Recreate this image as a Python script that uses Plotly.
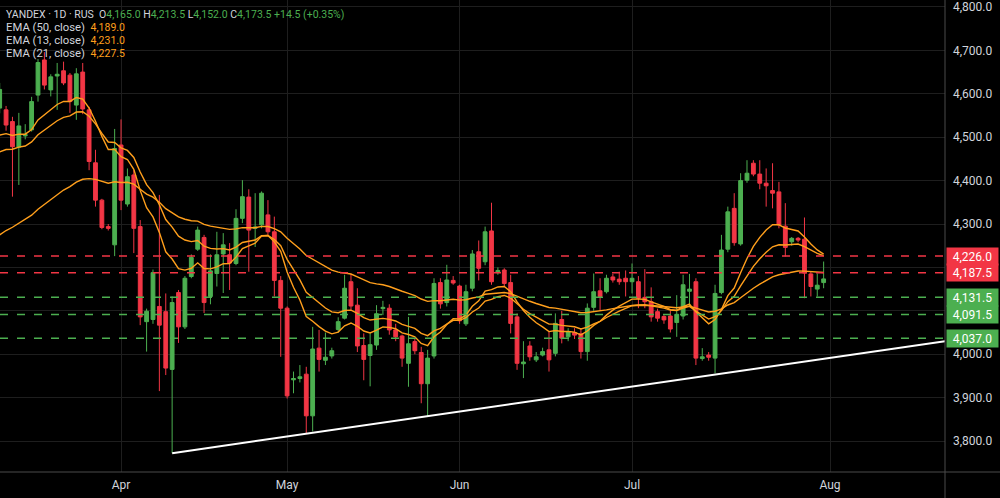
import plotly.graph_objects as go

# ---------------- data ----------------
opens = [4567, 4563, 4536, 4477, 4503, 4517, 4597, 4678, 4609, 4641,
         4653, 4643, 4574, 4650, 4563, 4441, 4355, 4294, 4252, 4482,
         4346, 4413, 4294, 4075, 4080, 4110, 4098, 3965, 4142, 4063,
         4179, 4242, 4269, 4133, 4186, 4231, 4229, 4209, 4313, 4362,
         4290, 4298, 4321, 4282, 4170, 4106, 3941, 3944, 3954, 3858,
         4014, 3986, 3996, 4057, 4083, 4167, 4113, 4020, 3997, 4021,
         4105, 4106, 4056, 4042, 3979, 4029, 4004, 3932, 3996, 4165,
         4119, 4170, 4157, 4070, 4152, 4236, 4213, 4284, 4188, 4194,
         4165, 4086, 3978, 4019, 3987, 3998, 4010, 4002, 4080, 4040,
         4050, 4047, 4006, 4108, 4146, 4144, 4178, 4173, 4175, 4167,
         4167, 4131, 4121, 4098, 4087, 4088, 4073, 4088, 4145, 4167,
         3990, 3998, 3991, 4142, 4242, 4336, 4254, 4401, 4440, 4415,
         4394, 4377, 4374, 4295, 4259, 4267, 4265, 4185, 4150, 4165.0]
highs = [4625, 4572, 4547, 4556, 4530, 4593, 4680, 4696, 4645, 4671,
         4674, 4648, 4659, 4671, 4570, 4471, 4358, 4300, 4519, 4541,
         4428, 4424, 4309, 4105, 4195, 4367, 4140, 4133, 4148, 4180,
         4230, 4294, 4275, 4230, 4282, 4279, 4256, 4334, 4401, 4380,
         4371, 4375, 4355, 4317, 4180, 4110, 3960, 3975, 3971, 4063,
         4056, 4050, 4015, 4085, 4183, 4185, 4152, 4048, 4048, 4113,
         4123, 4115, 4070, 4045, 4086, 4035, 4017, 4010, 4175, 4175,
         4206, 4180, 4160, 4160, 4240, 4262, 4294, 4349, 4200, 4198,
         4183, 4094, 4030, 4030, 4005, 4015, 4052, 4094, 4100, 4060,
         4060, 4060, 4117, 4186, 4175, 4183, 4185, 4190, 4193, 4209,
         4180, 4196, 4154, 4105, 4090, 4100, 4136, 4183, 4185, 4175,
         4014, 4005, 4160, 4275, 4340, 4371, 4417, 4447, 4447, 4447,
         4428, 4440, 4397, 4348, 4270, 4270, 4315, 4190, 4186, 4213.5]
lows = [4555, 4515, 4363, 4390, 4495, 4513, 4582, 4610, 4594, 4563,
        4620, 4556, 4540, 4553, 4424, 4340, 4288, 4285, 4226, 4332,
        4340, 4233, 4067, 4006, 4070, 3915, 3952, 3772, 4026, 4058,
        4175, 4238, 4095, 4115, 4156, 4141, 4148, 4205, 4302, 4190,
        4247, 4290, 4275, 4133, 3994, 3898, 3910, 3935, 3818, 3822,
        3960, 3975, 3990, 4050, 4080, 4100, 4005, 3940, 3926, 4010,
        4090, 4045, 4030, 3971, 3925, 4000, 3887, 3856, 3990, 4105,
        4110, 4160, 4070, 4065, 4145, 4170, 4205, 4160, 4183, 4155,
        4048, 3964, 3945, 3985, 3982, 3995, 3960, 3995, 4025, 4030,
        4035, 3990, 3985, 4100, 4100, 4140, 4165, 4160, 4133, 4140,
        4106, 4106, 4075, 4075, 4070, 4050, 4040, 4080, 4110, 3975,
        3985, 3985, 3956, 4138, 4235, 4250, 4250, 4395, 4410, 4380,
        4340, 4336, 4290, 4225, 4250, 4258, 4129, 4133, 4133, 4152.0]
closes = [4610, 4528, 4478, 4526, 4506, 4582, 4672, 4620, 4639, 4645,
          4625, 4582, 4646, 4565, 4444, 4355, 4292, 4290, 4474, 4355,
          4409, 4290, 4086, 4099, 4188, 4067, 3968, 4119, 4063, 4175,
          4223, 4286, 4119, 4192, 4229, 4252, 4210, 4313, 4363, 4286,
          4293, 4371, 4282, 4170, 4106, 3904, 3944, 3948, 3858, 4012,
          3988, 3993, 4008, 4075, 4152, 4111, 4019, 3988, 4022, 4093,
          4108, 4056, 4040, 3991, 4024, 4008, 3932, 3991, 4163, 4116,
          4171, 4164, 4077, 4144, 4231, 4198, 4282, 4167, 4193, 4163,
          4071, 3979, 3982, 3994, 3994, 4006, 3987, 4071, 4037, 4052,
          4044, 4006, 4106, 4144, 4133, 4175, 4171, 4167, 4167, 4175,
          4129, 4121, 4086, 4083, 4079, 4058, 4092, 4160, 4150, 3991,
          3994, 3993, 4140, 4240, 4328, 4257, 4400, 4417, 4415, 4394,
          4388, 4371, 4298, 4246, 4267, 4263, 4187, 4156, 4159, 4173.5]
bar_index = list(range(len(closes)))

month_ticks = [19, 45, 72, 99, 130]
month_labels = ["Apr", "May", "Jun", "Jul", "Aug"]
price_ticks = [3800, 3900, 4000, 4100, 4200, 4300, 4400, 4500, 4600, 4700, 4800]
# 4,100 and 4,200 are hidden behind the level badges in the picture
price_labels = ["3,800.0", "3,900.0", "4,000.0", "", "", "4,300.0",
                "4,400.0", "4,500.0", "4,600.0", "4,700.0", "4,800.0"]

red_levels = [4226.0, 4187.5]
green_levels = [4131.5, 4091.5, 4037.0]

ema_periods = [50, 13, 21]
ema_start = [4275, 4505, 4466]          # EMA values at the first visible bar
ema_legend_values = [4189.0, 4231.0, 4227.5]

trend_x = [27, 148]
trend_y = [3772, 4030]

symbol_text = "YANDEX · 1D · RUS"

# ---------------- styling ----------------
GREEN = "#4CAF50"
RED = "#F23645"
ORANGE = "#FF9F1C"
TEXT = "#D1D4DC"
GRID = "#1E1E1E"
AXIS = "#4A4A4A"
FONT = "Roboto"

W, H = 1000, 498
ML, MR, MT, MB = 0, 55, 0, 26
PH = H - MT - MB

fig = go.Figure()
fig.add_trace(go.Candlestick(
    x=bar_index, open=opens, high=highs, low=lows, close=closes,
    increasing=dict(line=dict(color=GREEN, width=1), fillcolor=GREEN),
    decreasing=dict(line=dict(color=RED, width=1), fillcolor=RED),
    whiskerwidth=0, showlegend=False, hoverinfo="skip"))

# EMA indicator lines computed from the closes
for n, start in zip(ema_periods, ema_start):
    a = 2.0 / (n + 1)
    vals = [start]
    for c in closes[1:]:
        vals.append(vals[-1] + a * (c - vals[-1]))
    fig.add_trace(go.Scatter(x=bar_index, y=vals, mode="lines",
                             line=dict(color=ORANGE, width=1.4),
                             showlegend=False, hoverinfo="skip"))

fig.add_trace(go.Scatter(x=trend_x, y=trend_y, mode="lines",
                         line=dict(color="#FFFFFF", width=2),
                         showlegend=False, hoverinfo="skip"))

shapes = []
for v in red_levels:
    shapes.append(dict(type="line", xref="paper", x0=0, x1=1, yref="y", y0=v, y1=v,
                       line=dict(color=RED, width=1.5, dash="8px,9px")))
for v in green_levels:
    shapes.append(dict(type="line", xref="paper", x0=0, x1=1, yref="y", y0=v, y1=v,
                       line=dict(color=GREEN, width=1.5, dash="8px,9px")))
# axis frame lines
shapes.append(dict(type="line", xref="paper", x0=1, x1=1, yref="paper",
                   y0=-MB / PH, y1=1, line=dict(color=AXIS, width=1)))
shapes.append(dict(type="line", xref="paper", x0=0, x1=W / (W - MR), yref="paper",
                   y0=0, y1=0, line=dict(color=AXIS, width=1)))

annotations = []
for v, col in [(v, RED) for v in red_levels] + [(v, GREEN) for v in green_levels]:
    annotations.append(dict(xref="paper", x=1, xanchor="left", xshift=1,
                            yref="y", y=v, yanchor="middle",
                            text=f"{v:,.1f}", showarrow=False,
                            bgcolor=col, borderpad=1.5, width=48, align="center",
                            font=dict(family=FONT, size=12, color="#FFFFFF")))

last_o, last_h, last_l, last_c = opens[-1], highs[-1], lows[-1], closes[-1]
chg = last_c - closes[-2]
pct = chg / closes[-2] * 100
g = lambda s: f"<span style='color:{GREEN}'>{s}</span>"
o_text = "O" + g(f"{last_o:,.1f}")
h_text = "H" + g(f"{last_h:,.1f}")
l_text = "L" + g(f"{last_l:,.1f}")
c_text = "C" + g(f"{last_c:,.1f}")
chg_text = g(f"{chg:+.1f} ({pct:+.2f}%)")
header = [(symbol_text + "  " + " ".join([o_text, h_text, l_text, c_text, chg_text]), 10.5)]
for n, v in zip(ema_periods, ema_legend_values):
    header.append((f"EMA ({n}, close)  <span style='color:{ORANGE};font-size:10.5px'>{v:,.1f}</span>", 11.3))
for k, (t, fs) in enumerate(header):
    ypix = 14 + 13.1 * k
    annotations.append(dict(xref="paper", x=0, xanchor="left", xshift=4,
                            yref="paper", y=1 - ypix / PH, yanchor="middle",
                            text=t, showarrow=False,
                            font=dict(family=FONT, size=fs, color=TEXT)))

fig.update_layout(
    width=W, height=H, margin=dict(l=ML, r=MR, t=MT, b=MB),
    paper_bgcolor="#000000", plot_bgcolor="#000000",
    font=dict(family=FONT, color=TEXT),
    showlegend=False, shapes=shapes, annotations=annotations,
    boxgap=0.15,
    xaxis=dict(range=[0.05, 148.0], tickvals=month_ticks, ticktext=month_labels,
               showgrid=True, gridcolor=GRID, gridwidth=1, zeroline=False,
               showline=False, ticks="", rangeslider=dict(visible=False),
               ticklabelstandoff=4,
               tickfont=dict(family=FONT, size=12, color=TEXT), fixedrange=True),
    yaxis=dict(side="right", range=[3728.6, 4816.1], tickvals=price_ticks,
               ticktext=price_labels, showgrid=True, gridcolor=GRID, gridwidth=1,
               zeroline=False, showline=False, ticks="",
               ticklabelstandoff=7,
               tickfont=dict(family=FONT, size=12, color=TEXT), fixedrange=True),
    hovermode=False,
)

fig.write_html("out.html")
